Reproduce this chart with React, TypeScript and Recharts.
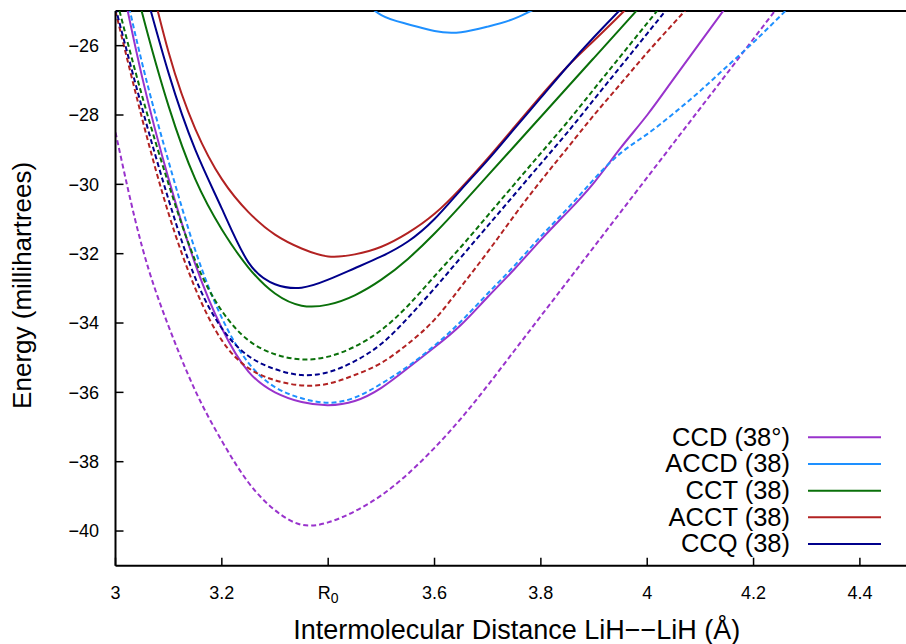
import React from 'react';
import { LineChart, Line, XAxis, YAxis, Legend, ReferenceLine } from 'recharts';

// distance grid (Å)
const distance = [
  3.0, 3.05, 3.1, 3.15, 3.2, 3.25, 3.3, 3.35, 3.4, 3.45, 3.5, 3.55, 3.6, 3.65, 3.7,
  3.75, 3.8, 3.85, 3.9, 3.95, 4.0, 4.05, 4.1, 4.15, 4.2, 4.25, 4.3, 4.35, 4.4, 4.45,
];

// energies in millihartrees, solid = first set, dashed = second set
const ccdSolid = [-23.3, -26.9, -29.85, -32.3, -34.15, -35.4, -36.0, -36.28, -36.37, -36.25, -35.87, -35.3, -34.7, -34.05, -33.25, -32.45, -31.6, -30.8, -29.95, -28.95, -28.0, -26.95, -25.9, -24.85, null, null, null, null, null, null];
const ccdDashed = [-28.5, -31.8, -34.1, -35.95, -37.4, -38.6, -39.4, -39.82, -39.75, -39.43, -38.97, -38.35, -37.6, -36.75, -35.8, -34.8, -33.8, -32.8, -31.8, -30.8, -29.8, -28.8, -27.8, -26.8, -25.8, -24.8, null, null, null, null];
const accdSolid = [null, null, null, null, null, null, null, null, null, -24.5, -25.12, -25.38, -25.58, -25.61, -25.45, -25.22, -24.85, null, null, null, null, null, null, null, null, null, null, null, null, null];
const accdDashed = [-23.1, -26.5, -29.35, -31.9, -33.85, -35.15, -35.85, -36.17, -36.3, -36.15, -35.75, -35.25, -34.65, -33.95, -33.15, -32.35, -31.5, -30.7, -29.85, -29.1, -28.55, -27.95, -27.3, -26.6, -25.9, -25.15, -24.4, null, null, null];
const cctSolid = [-22.0, -25.05, -27.75, -29.85, -31.3, -32.4, -33.15, -33.5, -33.47, -33.2, -32.75, -32.15, -31.42, -30.6, -29.75, -28.9, -28.05, -27.2, -26.35, -25.5, -24.65, null, null, null, null, null, null, null, null, null];
const cctDashed = [-24.55, -27.45, -30.0, -32.2, -33.65, -34.5, -34.9, -35.05, -34.97, -34.68, -34.2, -33.5, -32.65, -31.8, -30.9, -30.0, -29.1, -28.2, -27.25, -26.3, -25.35, -24.4, null, null, null, null, null, null, null, null];
const acctSolid = [-20.5, -23.2, -26.2, -28.4, -29.85, -30.8, -31.45, -31.85, -32.08, -32.02, -31.8, -31.4, -30.85, -30.1, -29.25, -28.35, -27.45, -26.6, -25.85, -25.1, -24.35, null, null, null, null, null, null, null, null, null];
const acctDashed = [-25.0, -28.1, -30.85, -33.0, -34.5, -35.3, -35.65, -35.8, -35.75, -35.5, -35.15, -34.6, -33.9, -32.95, -31.95, -30.9, -29.9, -28.95, -28.0, -27.1, -26.2, -25.35, -24.5, null, null, null, null, null, null, null];
const ccqSolid = [-21.5, -24.1, -26.8, -29.0, -30.7, -32.25, -32.88, -32.98, -32.75, -32.42, -32.08, -31.65, -31.0, -30.15, -29.3, -28.4, -27.5, -26.6, -25.75, -24.95, -24.15, null, null, null, null, null, null, null, null, null];
const ccqDashed = [-24.9, -27.8, -30.45, -32.7, -34.15, -34.95, -35.33, -35.5, -35.42, -35.1, -34.6, -33.85, -33.0, -32.1, -31.2, -30.3, -29.4, -28.5, -27.55, -26.6, -25.65, -24.7, null, null, null, null, null, null, null, null];

const seriesNames = ['CCD (38°)', 'ACCD (38)', 'CCT (38)', 'ACCT (38)', 'CCQ (38)'];
const seriesColors = ['#9933CC', '#1E90FF', '#0A700A', '#B22222', '#00008B'];
const solidSets = [ccdSolid, accdSolid, cctSolid, acctSolid, ccqSolid];
const dashedSets = [ccdDashed, accdDashed, cctDashed, acctDashed, ccqDashed];

const xTicks = [3, 3.2, 3.4, 3.6, 3.8, 4, 4.2, 4.4];
const xTickLabels = ['3', '3.2', 'R0', '3.6', '3.8', '4', '4.2', '4.4'];
const yTicks = [-40, -38, -36, -34, -32, -30, -28, -26];

const FONT = '"Liberation Sans", Arial, Helvetica, sans-serif';

const rows = distance.map((x, i) => {
  const row: Record<string, number | null> = { x };
  solidSets.forEach((s, k) => { row[`s${k}`] = s[i]; });
  dashedSets.forEach((s, k) => { row[`d${k}`] = s[i]; });
  return row;
});

const XTick = ({ x, y, index }: any) => {
  const label = xTickLabels[index];
  return (
    <g>
      <line x1={x} x2={x} y1={y} y2={y - 8} stroke="#000" strokeWidth={1.5} />
      {label === 'R0' ? (
        <text x={x} y={y + 33.5} textAnchor="middle" fontSize={18} fontFamily={FONT} fill="#000">
          <tspan>R</tspan>
          <tspan fontSize={14} dy={4}>0</tspan>
        </text>
      ) : (
        <text x={x} y={y + 33.5} textAnchor="middle" fontSize={18} fontFamily={FONT} fill="#000">
          {label}
        </text>
      )}
    </g>
  );
};

const YTick = ({ x, y, payload }: any) => (
  <g>
    <line x1={x} x2={x + 8} y1={y} y2={y} stroke="#000" strokeWidth={1.5} />
    <text x={x - 16.5} y={y + 6.4} textAnchor="end" fontSize={18} fontFamily={FONT} fill="#000">
      {`\u2212${Math.abs(payload.value)}`}
    </text>
  </g>
);

const XTitle = ({ viewBox }: any) => (
  <text x={viewBox.x + viewBox.width / 2 + 6} y={638.5} textAnchor="middle" fontSize={27} fontFamily={FONT} fill="#000">
    Intermolecular Distance LiH{'\u2212\u2212'}LiH (Å)
  </text>
);

const YTitle = ({ viewBox }: any) => {
  const cy = viewBox.y + viewBox.height / 2 - 3;
  return (
    <text x={31.5} y={cy} transform={`rotate(-90, 31.5, ${cy})`} textAnchor="middle" fontSize={26} fontFamily={FONT} fill="#000">
      Energy (millihartrees)
    </text>
  );
};

const renderLegend = () => (
  <svg width={300} height={140}>
    {seriesNames.map((name, i) => {
      const cy = 17.3 + i * 26.67;
      return (
        <g key={name}>
          <text x={190} y={cy + 8.5} textAnchor="end" fontSize={25.5} fontFamily={FONT} fill="#000">
            {name}
          </text>
          <line x1={208} x2={281} y1={cy} y2={cy} stroke={seriesColors[i]} strokeWidth={2} />
        </g>
      );
    })}
  </svg>
);

export default function App() {
  return (
    <div style={{ position: 'absolute', left: 0, top: 0, width: 906, height: 644, background: '#fff' }}>
      <LineChart width={906} height={644} data={rows} margin={{ top: 11, right: 0, bottom: 0, left: 0 }}>
        <XAxis
          type="number"
          dataKey="x"
          domain={[3, 4.4867]}
          ticks={xTicks}
          interval={0}
          allowDataOverflow
          height={78.3}
          tickSize={0}
          tickMargin={0}
          tick={<XTick />}
          axisLine={{ stroke: '#000', strokeWidth: 2 }}
          label={<XTitle />}
        />
        <YAxis
          type="number"
          domain={[-41, -25]}
          ticks={yTicks}
          interval={0}
          allowDataOverflow
          width={115.5}
          tickSize={0}
          tickMargin={0}
          tick={<YTick />}
          axisLine={{ stroke: '#000', strokeWidth: 2 }}
          label={<YTitle />}
        />
        <ReferenceLine y={-25} stroke="#000" strokeWidth={2} />
        {seriesNames.map((name, k) => [
          <Line
            key={`s${k}`}
            type="natural"
            dataKey={`s${k}`}
            name={name}
            stroke={seriesColors[k]}
            strokeWidth={2}
            dot={false}
            activeDot={false}
            isAnimationActive={false}
          />,
          <Line
            key={`d${k}`}
            type="natural"
            dataKey={`d${k}`}
            name={`${name} dashed`}
            stroke={seriesColors[k]}
            strokeWidth={2}
            strokeDasharray="5 3"
            dot={false}
            activeDot={false}
            isAnimationActive={false}
            legendType="none"
          />,
        ])}
        <Legend
          layout="vertical"
          align="center"
          verticalAlign="middle"
          content={renderLegend}
          wrapperStyle={{ position: 'absolute', left: 600, top: 420, width: 300, height: 140 }}
        />
      </LineChart>
    </div>
  );
}
